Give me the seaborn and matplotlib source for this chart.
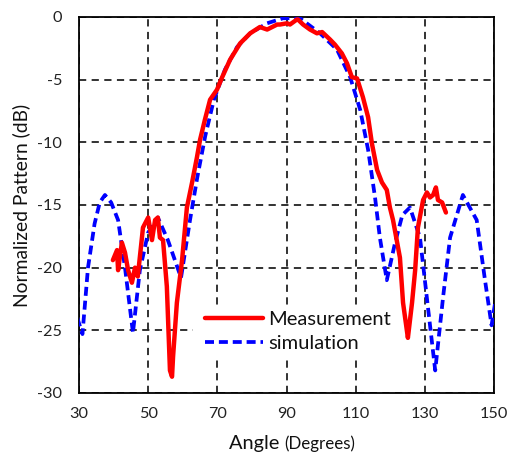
import matplotlib
matplotlib.use("Agg")
import matplotlib.pyplot as plt
from matplotlib.patches import Rectangle
import seaborn as sns
import pandas as pd

# ---- data ----
meas_angle = [39.8, 41.0, 41.3, 42.4, 43.3, 44.2, 45.3, 46.2, 47.0, 48.2, 48.5, 50.0, 51.1, 52.0,
              52.8, 53.4, 54.3, 55.4, 56.3, 56.9, 57.2, 58.3, 59.8, 61.2, 62.7, 64.1, 65.0, 66.4,
              67.9, 69.9, 71.4, 73.7, 76.6, 79.5, 82.3, 84.4, 87.3, 88.1, 90.2, 91.0, 93.0, 93.3,
              94.8, 96.8, 98.8, 100.3, 102.6, 104.0, 106.0, 107.5, 108.9, 110.4, 112.1, 113.6,
              114.7, 116.2, 117.6, 119.0, 119.9, 120.8, 122.0, 122.8, 123.7, 124.9, 125.1, 126.3,
              127.2, 128.0, 129.5, 130.6, 131.5, 132.4, 133.2, 133.8, 135.0, 136.1]
meas_db = [-19.4, -18.6, -20.2, -18.0, -18.8, -20.2, -21.2, -20.0, -20.7, -17.6, -16.8, -16.0, -17.8, -16.2,
           -16.0, -17.6, -17.8, -21.5, -28.2, -28.7, -27.1, -22.8, -19.4, -15.2, -13.2, -11.2, -9.8, -8.2,
           -6.6, -5.8, -4.8, -3.4, -2.1, -1.3, -0.8, -1.0, -0.6, -0.6, -0.5, -0.6, -0.2, -0.2,
           -0.6, -1.0, -1.3, -1.2, -1.8, -2.2, -2.9, -3.7, -4.8, -4.9, -6.4, -8.0,
           -10.1, -12.2, -13.2, -13.8, -15.2, -16.2, -18.0, -19.2, -22.8, -25.2, -25.6, -22.8,
           -20.2, -16.8, -14.6, -14.0, -14.4, -14.2, -13.6, -14.6, -14.8, -15.6]

sim_angle = [29.5, 31.0, 32.6, 34.5, 36.0, 37.5, 39.3, 41.3, 43.3, 45.6, 47.6, 50.0, 52.8, 55.7,
             59.5, 62.1, 64.2, 66.5, 69.0, 72.2, 75.7, 79.5, 84.4, 89.0, 93.9, 99.7, 104.6,
             108.4, 111.3, 113.6, 115.6, 117.0, 119.0, 121.4, 123.5, 125.7, 128.6, 131.0, 133.0,
             135.3, 137.3, 141.0, 145.0, 147.4, 149.3, 150.5]
sim_db = [-24.0, -25.3, -20.0, -16.5, -14.8, -14.2, -14.8, -16.2, -20.0, -25.2, -20.2, -17.2, -16.0, -17.8,
          -20.8, -16.2, -12.8, -9.5, -6.6, -4.2, -2.4, -1.3, -0.5, -0.1, -0.1, -1.3, -2.6,
          -4.8, -7.4, -10.6, -14.4, -17.6, -21.0, -18.0, -15.8, -15.2, -17.6, -23.4, -28.2,
          -22.3, -17.6, -14.2, -16.2, -21.0, -24.6, -22.5]

x_ticks = [30, 50, 70, 90, 110, 130, 150]
y_ticks = [-30, -25, -20, -15, -10, -5, 0]

meas = pd.DataFrame({"angle": meas_angle, "db": meas_db})
sim = pd.DataFrame({"angle": sim_angle, "db": sim_db})

sns.set_theme(style="white")
plt.rcParams["font.family"] = ["Lato", "DejaVu Sans"]

fig = plt.figure(figsize=(5.08, 4.53), dpi=100)
W, H = 508, 453
ax = fig.add_axes([79 / W, (H - 393) / H, 415 / W, 376 / H])

def px2ax(px, py):
    return (px - 79) / 415, (393 - py) / 376

sns.lineplot(data=meas, x="angle", y="db", ax=ax, color="#ff0000", lw=3.2,
             label="Measurement", zorder=4, sort=False)
sns.lineplot(data=sim, x="angle", y="db", ax=ax, color="#0000ff", lw=2.7,
             label="simulation", zorder=3, sort=False)
ax.lines[1].set_dashes([2.4, 1.3])

ax.set_xlim(30, 150)
ax.set_ylim(-30, 0)
ax.set_xticks(x_ticks)
ax.set_yticks(y_ticks)
ax.set_xticklabels([str(v) for v in x_ticks])
ax.set_yticklabels([str(v) for v in y_ticks])
ax.tick_params(axis="both", labelsize=11.7, colors="#222222", length=0)
ax.tick_params(axis="x", pad=10)
ax.tick_params(axis="y", pad=12)
ax.grid(True, color="#222222", linestyle=(0, (4, 3)), linewidth=1.3)
ax.set_axisbelow(True)
for s in ax.spines.values():
    s.set_color("black")
    s.set_linewidth(1.3)
ax.set_xlabel("")
ax.set_ylabel("Normalized Pattern (dB)", fontsize=13.9, labelpad=5, color="#111111")

# white box behind the legend (hides gridlines, like the reference)
x0, y0 = px2ax(193, 357)
x1, y1 = px2ax(420, 305)
ax.add_patch(Rectangle((x0, y0), x1 - x0, y1 - y0, transform=ax.transAxes,
                       facecolor="white", edgecolor="none", zorder=1.5))

# x label: "Angle" larger, "(Degrees)" smaller
t1 = fig.text(229 / W, 1 - 444 / H, "Angle ", fontsize=14.4, ha="left", va="center", color="#111111")
ax.annotate("(Degrees)", xy=(1, 0), xycoords=t1, va="bottom", ha="left",
            fontsize=12.2, color="#111111")

lx, ly = px2ax(205, 311)
leg = ax.legend(loc="upper left", bbox_to_anchor=(lx, ly),
                fontsize=14.5, frameon=False, handlelength=2.9, handletextpad=0.25,
                labelspacing=0.35, borderpad=0, borderaxespad=0)
for t in leg.get_texts():
    t.set_color("#111111")

fig.savefig("out.png", dpi=100)
